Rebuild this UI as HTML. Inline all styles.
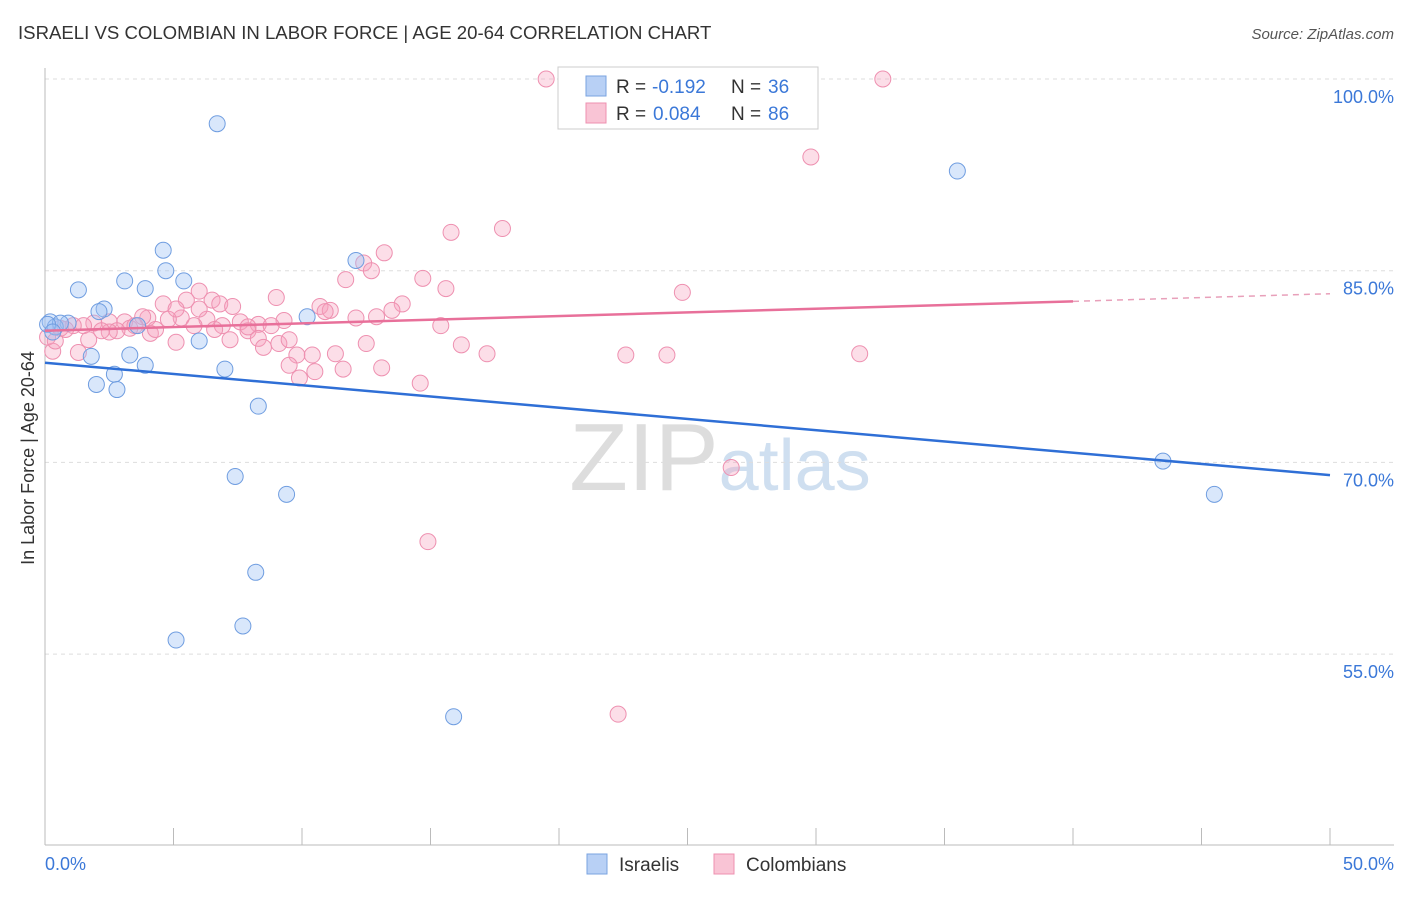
<!DOCTYPE html>
<html><head><meta charset="utf-8"><style>
body{margin:0;background:#fff;font-family:"Liberation Sans",sans-serif;}
svg text{font-family:"Liberation Sans",sans-serif;}
</style></head><body>
<svg id="c" width="1406" height="892" xmlns="http://www.w3.org/2000/svg">
<text x="18" y="39" font-size="18.6" fill="#333">ISRAELI VS COLOMBIAN IN LABOR FORCE | AGE 20-64 CORRELATION CHART</text>
<text x="1394" y="39" font-size="15" fill="#555" text-anchor="end" font-style="italic">Source: ZipAtlas.com</text>
<text x="34" y="458" font-size="18" fill="#333" text-anchor="middle" transform="rotate(-90 34 458)">In Labor Force | Age 20-64</text>
<text x="720" y="490" font-size="96" fill="#ddd" text-anchor="middle" font-family="Liberation Serif">ZIP<tspan fill="#cfdff0" font-family="Liberation Sans" font-size="72">atlas</tspan></text>
<g id="grid"></g><g id="pts"></g><g id="lines"></g>
<g>
<rect x="558" y="67" width="260" height="62" fill="#fff" stroke="#ccc"/>
<rect x="586" y="76" width="20" height="20" fill="#b8d0f5" stroke="#7aa3e0"/>
<rect x="586" y="103" width="20" height="20" fill="#f9c4d5" stroke="#ee90b0"/>
<text x="616" y="93" font-size="19" fill="#333">R =</text><text x="652" y="93" font-size="19" fill="#3b78d8">-0.192</text>
<text x="731" y="93" font-size="19" fill="#333">N =</text><text x="768" y="93" font-size="19" fill="#3b78d8">36</text>
<text x="616" y="120" font-size="19" fill="#333">R =</text><text x="653" y="120" font-size="19" fill="#3b78d8">0.084</text>
<text x="731" y="120" font-size="19" fill="#333">N =</text><text x="768" y="120" font-size="19" fill="#3b78d8">86</text>
</g>
<g>
<rect x="587" y="854" width="20" height="20" fill="#b8d0f5" stroke="#7aa3e0"/>
<text x="619" y="871" font-size="19" fill="#333">Israelis</text>
<rect x="714" y="854" width="20" height="20" fill="#f9c4d5" stroke="#ee90b0"/>
<text x="746" y="871" font-size="19" fill="#333">Colombians</text>
</g>
<text x="45" y="870" font-size="18" fill="#3b78d8">0.0%</text>
<text x="1394" y="870" font-size="18" fill="#3b78d8" text-anchor="end">50.0%</text>
</svg>
<script>
const yTicks=[100,85,70,55];
const blueX=[6.7,35.5,5.4,4.6,4.7,3.1,1.3,3.9,12.1,10.2,2.3,2.1,3.6,0.9,0.2,0.4,6.0,1.8,3.3,3.9,7.0,2.7,2.0,2.8,8.3,7.4,9.4,8.2,7.7,5.1,15.9,43.5,45.5,0.6,0.1,0.3];
const blueY=[96.5,92.8,84.2,86.6,85.0,84.2,83.5,83.6,85.8,81.4,82.0,81.8,80.7,80.9,81.0,80.6,79.5,78.3,78.4,77.6,77.3,76.9,76.1,75.7,74.4,68.9,67.5,61.4,57.2,56.1,50.1,70.1,67.5,80.9,80.8,80.2];
const pinkX=[19.5,32.6,29.8,17.8,15.8,13.2,12.4,12.7,11.7,14.7,15.6,24.8,9.0,6.0,6.5,6.8,7.3,5.5,4.6,13.9,10.7,11.1,10.9,13.5,12.9,12.1,9.3,8.3,7.6,6.9,6.3,5.3,4.8,4.0,3.8,3.1,2.5,1.9,1.5,1.1,0.6,3.3,2.8,2.5,4.1,5.8,7.9,7.9,5.1,1.7,1.3,15.4,12.5,16.2,17.2,8.3,9.1,8.5,9.8,10.4,11.3,9.5,10.5,9.9,11.6,13.1,14.6,22.6,24.2,31.7,26.7,14.9,22.3,0.3,0.1,0.4,0.8,2.2,3.5,4.3,6.6,7.2,8.8,9.5,6.0,5.1];
const pinkY=[100,100,93.9,88.3,88.0,86.4,85.6,85.0,84.3,84.4,83.6,83.3,82.9,83.4,82.7,82.4,82.2,82.7,82.4,82.4,82.2,81.9,81.8,81.9,81.4,81.3,81.1,80.8,81.0,80.7,81.2,81.3,81.2,81.3,81.4,81.0,81.0,80.9,80.7,80.7,80.5,80.5,80.3,80.2,80.1,80.7,80.3,80.6,79.4,79.6,78.6,80.7,79.3,79.2,78.5,79.7,79.3,79.0,78.4,78.4,78.5,77.6,77.1,76.6,77.3,77.4,76.2,78.4,78.4,78.5,69.6,63.8,50.3,78.7,79.8,79.5,80.4,80.3,80.7,80.4,80.4,79.6,80.7,79.6,82.0,82.0];
const blueLine=[[0,77.8],[50,69.0]];
const pinkSolid=[[0,80.3],[40,82.6]];
const pinkDash=[[40,82.6],[50,83.2]];
const X=v=>45+v/50*1285, Y=v=>79+(100-v)*12.78;
const NS="http://www.w3.org/2000/svg";
function mk(t,a,p){const e=document.createElementNS(NS,t);for(const k in a)e.setAttribute(k,a[k]);p.appendChild(e);return e;}
const g=document.getElementById('grid');
yTicks.forEach(v=>{
 const l=mk('line',{x1:45,x2:1394,y1:Y(v),y2:Y(v),stroke:'#ddd','stroke-dasharray':'4,4'},g);
 
 
 const t=mk('text',{x:1394,y:Y(v)+24,'font-size':18,fill:'#3b78d8','text-anchor':'end'},g);
 t.textContent=v.toFixed(1)+'%';
 
 
});
mk('line',{x1:45,x2:45,y1:68,y2:845,stroke:'#bbb'},g);
mk('line',{x1:45,x2:1394,y1:845,y2:845,stroke:'#bbb'},g);
for(let i=0;i<=10;i++){const tk=mk('line',{x1:X(i*5),x2:X(i*5),y1:828,y2:845,stroke:'#bbb'},g);
 
 }
const p=document.getElementById('pts');
pinkX.forEach((x,i)=>{const c=mk('circle',{cx:X(x),cy:Y(pinkY[i]),r:8,fill:'rgba(245,160,190,0.35)',stroke:'#ee90b0','stroke-width':1},p);
 
 });
blueX.forEach((x,i)=>{const c=mk('circle',{cx:X(x),cy:Y(blueY[i]),r:8,fill:'rgba(160,195,245,0.4)',stroke:'#6f9de0','stroke-width':1},p);
 
 });
const L=document.getElementById('lines');
let a=mk('line',{x1:X(blueLine[0][0]),y1:Y(blueLine[0][1]),x2:X(blueLine[1][0]),y2:Y(blueLine[1][1]),stroke:'#2f6fd6','stroke-width':2.5},L);


a=mk('line',{x1:X(pinkSolid[0][0]),y1:Y(pinkSolid[0][1]),x2:X(pinkSolid[1][0]),y2:Y(pinkSolid[1][1]),stroke:'#e8709a','stroke-width':2.5},L);


a=mk('line',{x1:X(pinkDash[0][0]),y1:Y(pinkDash[0][1]),x2:X(pinkDash[1][0]),y2:Y(pinkDash[1][1]),stroke:'#e8a0ba','stroke-width':1.5,'stroke-dasharray':'6,5'},L);


</script>
</body></html>
